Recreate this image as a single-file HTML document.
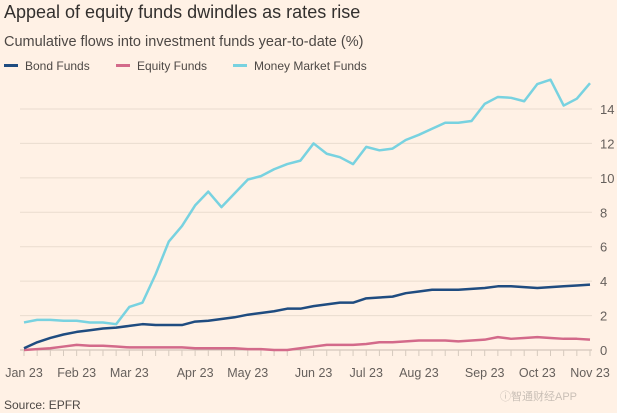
<!DOCTYPE html>
<html><head><meta charset="utf-8"><style>
body{margin:0;background:#fff1e5;font-family:"Liberation Sans",sans-serif;}
svg{display:block}
</style></head><body>
<svg width="617" height="413">
<rect width="617" height="413" fill="#fff1e5"/>
<text x="4" y="18" font-size="18" fill="#33302e">Appeal of equity funds dwindles as rates rise</text>
<text x="4" y="46" font-size="14.5" fill="#4d4845">Cumulative flows into investment funds year-to-date (%)</text>
<g>
<g><rect x="4" y="64" width="14" height="3" fill="#1f4c80"/><text x="25" y="70" font-size="12" fill="#4d4845">Bond Funds</text></g>
<g><rect x="116" y="64" width="14" height="3" fill="#d36a8a"/><text x="137" y="70" font-size="12" fill="#4d4845">Equity Funds</text></g>
<g><rect x="233" y="64" width="14" height="3" fill="#78d2e0"/><text x="254" y="70" font-size="12" fill="#4d4845">Money Market Funds</text></g>
</g>
<g id="grid"></g>
<g id="yaxis"></g>
<g id="xaxis"></g>
<g id="series"></g>
<text x="4" y="409" font-size="12" fill="#4d4845">Source: EPFR</text>
<text x="500" y="400" font-size="11" fill="#c9bfb6" font-family="Liberation Sans, Noto Sans CJK SC, sans-serif">ⓘ智通财经APP</text>
</svg>
<script>
const monthLabels=["Jan 23","Feb 23","Mar 23","Apr 23","May 23","Jun 23","Jul 23","Aug 23","Sep 23","Oct 23","Nov 23"];
const monthWeeks=[0,4,8,13,17,22,26,30,35,39,43];
const yTicks=[0,2,4,6,8,10,12,14];
const moneyMarket=[1.6,1.75,1.75,1.7,1.7,1.6,1.6,1.5,2.5,2.75,4.4,6.3,7.2,8.4,9.2,8.3,9.1,9.9,10.1,10.5,10.8,11.0,12.0,11.4,11.2,10.8,11.8,11.6,11.7,12.2,12.5,12.85,13.2,13.2,13.3,14.3,14.7,14.65,14.45,15.45,15.7,14.2,14.6,15.5];
const bond=[0.1,0.45,0.7,0.9,1.05,1.15,1.25,1.3,1.4,1.5,1.45,1.45,1.45,1.65,1.7,1.8,1.9,2.05,2.15,2.25,2.4,2.4,2.55,2.65,2.75,2.75,3.0,3.05,3.1,3.3,3.4,3.5,3.5,3.5,3.55,3.6,3.7,3.7,3.65,3.6,3.65,3.7,3.75,3.8];
const equity=[0.0,0.05,0.1,0.2,0.3,0.25,0.25,0.2,0.15,0.15,0.15,0.15,0.15,0.1,0.1,0.1,0.1,0.05,0.05,0.0,0.0,0.1,0.2,0.3,0.3,0.3,0.35,0.45,0.45,0.5,0.55,0.55,0.55,0.5,0.55,0.6,0.75,0.65,0.7,0.75,0.7,0.65,0.65,0.6];
const NS="http://www.w3.org/2000/svg";
const X=i=>24+i*(590-24)/43;
const Y=v=>350-v*(350-109)/14;
function mk(t,a,p){const e=document.createElementNS(NS,t);for(const k in a)e.setAttribute(k,a[k]);p.appendChild(e);return e;}
const grid=document.getElementById('grid'),ya=document.getElementById('yaxis'),xa=document.getElementById('xaxis'),ser=document.getElementById('series');
yTicks.forEach(v=>{
 if(v>0){const l=mk('line',{x1:20,x2:592,y1:Y(v),y2:Y(v),stroke:'#eadccf','stroke-width':1},grid);
 
 }
 const t=mk('text',{x:600,y:Y(v)+5,'font-size':13,fill:'#66605c'},ya);t.textContent=v;
 
 
});
const base=mk('line',{x1:20,x2:592,y1:Y(0),y2:Y(0),stroke:'#c8bcb1','stroke-width':1},xa);


for(let i=0;i<=43;i++){const t=mk('line',{x1:X(i),x2:X(i),y1:Y(0),y2:Y(0)+6,stroke:'#d6cabe','stroke-width':1},xa);
 
 }
monthLabels.forEach((m,k)=>{const t=mk('text',{x:X(monthWeeks[k]),y:377,'font-size':12.5,fill:'#66605c','text-anchor':'middle'},xa);t.textContent=m;
 
 });
function line(d,c,n){const p=mk('polyline',{points:d.map((v,i)=>X(i)+','+Y(v)).join(' '),fill:'none',stroke:c,'stroke-width':2.5,'stroke-linejoin':'round'},ser);
 
 }
line(equity,'#d36a8a','equity-funds-line');
line(bond,'#1f4c80','bond-funds-line');
line(moneyMarket,'#78d2e0','money-market-funds-line');
</script>
</body></html>
